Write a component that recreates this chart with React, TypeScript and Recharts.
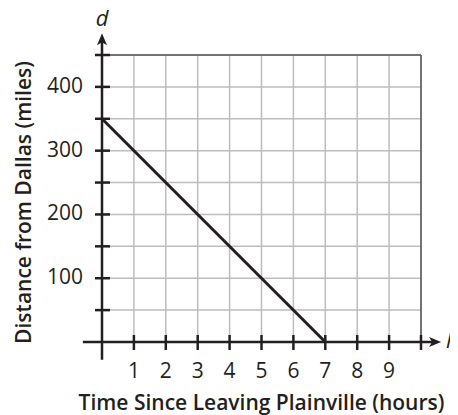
import React from 'react';
import { LineChart, Line, XAxis, YAxis, CartesianGrid, ReferenceLine, Label } from 'recharts';

const points = [
  { h: 0, d: 350 },
  { h: 7, d: 0 },
];
const xGrid = [1, 2, 3, 4, 5, 6, 7, 8, 9, 10];
const yGrid = [50, 100, 150, 200, 250, 300, 350, 400, 450];
const xTicks = [1, 2, 3, 4, 5, 6, 7, 8, 9, 10];
const xLabelValues = [1, 2, 3, 4, 5, 6, 7, 8, 9];
const yTicks = [50, 100, 150, 200, 250, 300, 350, 400, 450];
const yLabelValues = [100, 200, 300, 400];

const FONT = '"Open Sans", "Noto Sans", sans-serif';
const INK = '#231f20';

const XTick = (props: any) => {
  const { x, y, payload } = props;
  const v = payload.value;
  return (
    <g>
      <line x1={x} x2={x} y1={y - 7} y2={y + 8} stroke={INK} strokeWidth={2.5} />
      {xLabelValues.includes(v) && (
        <text x={x} y={y + 36} textAnchor="middle" fontFamily={FONT} fontSize={21} fill={INK}>
          {v}
        </text>
      )}
    </g>
  );
};

const YTick = (props: any) => {
  const { x, y, payload } = props;
  const v = payload.value;
  return (
    <g>
      <line x1={x - 7} x2={x + 8} y1={y} y2={y} stroke={INK} strokeWidth={2.5} />
      {yLabelValues.includes(v) && (
        <text x={x - 19} y={y + 6} textAnchor="end" fontFamily={FONT} fontSize={21} fill={INK}>
          {v}
        </text>
      )}
    </g>
  );
};

const ArrowLine = (dir: 'up' | 'right') => (props: any) => {
  const { x1, y1, x2, y2 } = props;
  const L = 12;
  const W = 5;
  let tri = '';
  if (dir === 'right') {
    const tx = Math.max(x1, x2);
    tri = `${tx},${y1} ${tx - L},${y1 - W} ${tx - L + 3},${y1} ${tx - L},${y1 + W}`;
  } else {
    const ty = Math.min(y1, y2);
    tri = `${x1},${ty} ${x1 - W},${ty + L} ${x1},${ty + L - 3} ${x1 + W},${ty + L}`;
  }
  return (
    <g>
      <line
        x1={x1}
        y1={y1}
        x2={dir === 'right' ? Math.max(x1, x2) - 6 : x2}
        y2={dir === 'up' ? Math.min(y1, y2) + 6 : y2}
        stroke={INK}
        strokeWidth={2.5}
      />
      <polygon points={tri} fill={INK} />
    </g>
  );
};

export default function App() {
  return (
    <div style={{ margin: '-8px 0 0 -8px', width: 458, height: 415 }}>
      <LineChart
        width={458}
        height={415}
        data={points}
        margin={{ top: 55, right: 37, bottom: 0, left: 0 }}
      >
        <CartesianGrid
          stroke="#bdbdbd"
          strokeWidth={1.5}
          horizontalValues={yGrid}
          verticalValues={xGrid}
        />
        <XAxis
          dataKey="h"
          type="number"
          domain={[0, 10]}
          ticks={xTicks}
          interval={0}
          axisLine={false}
          tickLine={false}
          tickSize={0}
          tickMargin={0}
          height={73}
          tick={<XTick />}
        >
          <Label
            content={(p: any) => {
              const vb = p.viewBox;
              return (
                <text
                  x={vb.x + vb.width / 2}
                  y={vb.y + 68}
                  textAnchor="middle"
                  fontFamily={FONT}
                  fontWeight={600}
                  fontSize={21}
                  fill={INK}
                >
                  Time Since Leaving Plainville (hours)
                </text>
              );
            }}
          />
        </XAxis>
        <YAxis
          dataKey="d"
          type="number"
          domain={[0, 450]}
          ticks={yTicks}
          interval={0}
          axisLine={false}
          tickLine={false}
          tickSize={0}
          tickMargin={0}
          width={102}
          tick={<YTick />}
        >
          <Label
            content={(p: any) => {
              const vb = p.viewBox;
              const cx = 23;
              const cy = vb.y + vb.height / 2 + 4;
              return (
                <text
                  x={cx}
                  y={cy}
                  transform={`rotate(-90, ${cx}, ${cy})`}
                  textAnchor="middle"
                  dominantBaseline="central"
                  fontFamily={FONT}
                  fontWeight={600}
                  fontSize={21}
                  fill={INK}
                >
                  Distance from Dallas (miles)
                </text>
              );
            }}
          />
        </YAxis>
        <ReferenceLine y={450} stroke="#555" strokeWidth={1.5} />
        <ReferenceLine x={10} stroke="#555" strokeWidth={1.5} />
        <ReferenceLine
          segment={[{ x: -0.6, y: 0 }, { x: 10.63, y: 0 }]}
          ifOverflow="visible"
          shape={ArrowLine('right')}
        />
        <ReferenceLine
          segment={[{ x: 0, y: -28 }, { x: 0, y: 484 }]}
          ifOverflow="visible"
          shape={ArrowLine('up')}
        />
        <Line
          type="linear"
          dataKey="d"
          stroke={INK}
          strokeWidth={3}
          dot={false}
          isAnimationActive={false}
        />
        <ReferenceLine y={0} ifOverflow="visible" stroke="none">
          <Label
            content={(p: any) => {
              const vb = p.viewBox;
              return (
                <text x={vb.x + vb.width + 25} y={vb.y + 6} fontFamily={FONT} fontStyle="italic" fontSize={22} fill={INK}>
                  h
                </text>
              );
            }}
          />
        </ReferenceLine>
        <ReferenceLine x={0} ifOverflow="visible" stroke="none">
          <Label
            content={(p: any) => {
              const vb = p.viewBox;
              return (
                <text x={vb.x} y={vb.y - 29} textAnchor="middle" fontFamily={FONT} fontStyle="italic" fontSize={22} fill={INK}>
                  d
                </text>
              );
            }}
          />
        </ReferenceLine>
      </LineChart>
    </div>
  );
}
